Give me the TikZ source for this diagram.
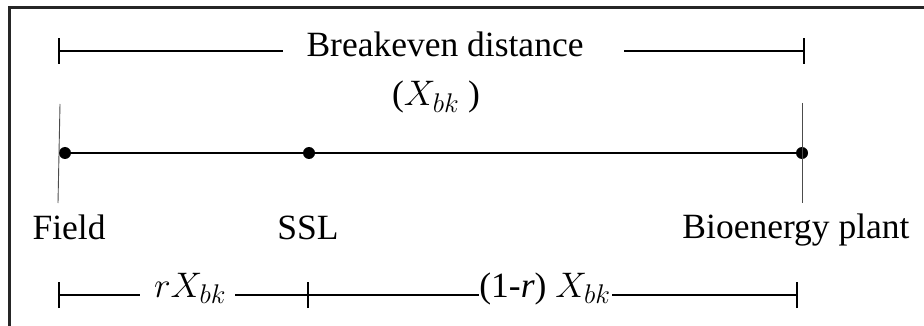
\RequirePackage{fix-cm}
\documentclass[tikz,border=0pt]{standalone}
\usepackage{fontspec}
\setmainfont{Liberation Serif}
\newcommand{\xbk}{X_{\hbox{\fontsize{27}{30}\selectfont$bk$}}}
\begin{document}
\begin{tikzpicture}[x=1pt,y=-1pt,
  lbl/.style={inner sep=0pt,font=\fontsize{35.5}{40}\selectfont,anchor=base},
  dot/.style={circle,fill=black,inner sep=0pt,minimum size=12pt},
  bar/.style={line width=2pt,black},
  thin/.style={line width=0.9pt,black!70},
  frame/.style={line width=3pt,black!85}]
\useasboundingbox (0,0) rectangle (924,326);
% frame (top and left edges only)
\coordinate (fTL) at (9,8);
\coordinate (fTR) at (924,8);
\coordinate (fBL) at (9,326);
\draw[frame] (fBL) -- (fTL) -- (fTR);
% main line with points
\node[dot] (field) at (65,153) {};
\node[dot] (ssl) at (309,153) {};
\node[dot] (plant) at (802,153) {};
\draw[bar] (field) -- (ssl) -- (plant);
% thin vertical markers
\coordinate (fvt) at (60,104);
\coordinate (fvb) at (58,203);
\coordinate (pvt) at (802,103);
\coordinate (pvb) at (802,203);
\draw[thin] (fvt) -- (fvb);
\draw[thin] (pvt) -- (pvb);
% labels
\node[lbl] (lf) at (69,239) {Field};
\node[lbl] (ls) at (308,239) {SSL};
\node[lbl] (lp) at (796,238) {Bioenergy plant};
% top dimension
\node[lbl] (bd) at (445,57) {Breakeven distance};
\node[lbl] (bx) at (436,106) {($\xbk$ )};
\coordinate (t1) at (59,51);
\coordinate (t2) at (804,51);
\coordinate (t1a) at (283,51);
\coordinate (t2a) at (624,51);
\draw[bar] (t1) -- (t1a);
\draw[bar] (t2a) -- (t2);
\draw[bar] ([yshift=-13pt]t1) -- ([yshift=13pt]t1);
\draw[bar] ([yshift=-13pt]t2) -- ([yshift=13pt]t2);
% bottom dimension
\node[lbl] (rx) at (190,297) {$r\xbk$};
\node[lbl] (ox) at (545,297) {(1-\textit{r}) $\xbk$};
\coordinate (b1) at (59,295);
\coordinate (b2) at (308,295);
\coordinate (b3) at (797,295);
\coordinate (b1a) at (140,295);
\coordinate (b2a) at (235,295);
\coordinate (b2b) at (479,295);
\coordinate (b3a) at (612,295);
\draw[bar] (b1) -- (b1a);
\draw[bar] (b2a) -- (b2) -- (b2b);
\draw[bar] (b3a) -- (b3);
\draw[bar] ([yshift=-13pt]b1) -- ([yshift=13pt]b1);
\draw[bar] ([yshift=-13pt]b2) -- ([yshift=13pt]b2);
\draw[bar] ([yshift=-13pt]b3) -- ([yshift=13pt]b3);
\end{tikzpicture}
\end{document}
